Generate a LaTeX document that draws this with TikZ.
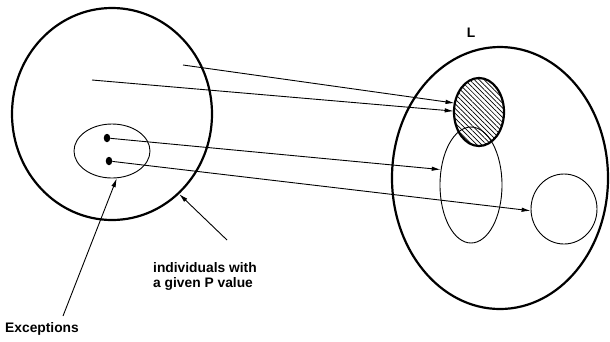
\documentclass[tikz,border=0pt]{standalone}
\usepackage{fontspec}
\setmainfont{Liberation Sans}
\usetikzlibrary{arrows.meta,patterns.meta,shapes.geometric}
\begin{document}
\begin{tikzpicture}[x=1pt,y=-1pt,
  thickline/.style={line width=2.2pt},
  thinline/.style={line width=0.9pt},
  region/.style={ellipse, draw, inner sep=0pt},
  conn/.style={line width=0.9pt, -{Latex[length=9pt,width=4.5pt]}},
  dotmark/.style={ellipse, fill, inner sep=0pt, minimum width=6.5pt, minimum height=8.5pt},
  lbl/.style={font=\bfseries\fontsize{13.8}{15.5}\selectfont, inner sep=0pt}
]
\useasboundingbox (0,0) rectangle (610,341);
% left population
\node[region, thickline, minimum width=200pt, minimum height=212pt] (P) at (112,114) {};
\node[region, thinline, minimum width=76pt, minimum height=54pt] (E) at (112,151) {};
\node[dotmark] (d1) at (107,138) {};
\node[dotmark] (d2) at (109,161) {};
% right set L
\node[region, thickline, minimum width=216pt, minimum height=262pt] (L) at (500,178) {};
\node[region, thickline, minimum width=50pt, minimum height=68pt,
      pattern={Lines[angle=-45,distance=3.4pt,line width=0.7pt]}] (H) at (479,112) {};
\node[region, thinline, minimum width=62pt, minimum height=116pt] (M) at (471,185) {};
\node[region, thinline, minimum width=66pt, minimum height=70pt] (S) at (564,209) {};
% mapping arrows
\coordinate (a1) at (183,65);
\coordinate (a2) at (92,80);
\draw[conn] (a1) -- (H.160);
\draw[conn] (a2) -- (H.178);
\draw[conn] (d1) -- (M.153);
\draw[conn] (d2) -- (S.183);
% labels
\node[lbl] (Lt) at (471,33) {L};
\node[lbl, align=left, anchor=north west] (ind) at (153,262) {individuals with\\a given P value};
\node[lbl, anchor=north west] (exc) at (5,322) {Exceptions};
\coordinate (ia) at (227,240);
\coordinate (ea) at (63,316);
\draw[conn] (ia) -- (P.-50);
\draw[conn] (ea) -- (E.-80);
\end{tikzpicture}
\end{document}
